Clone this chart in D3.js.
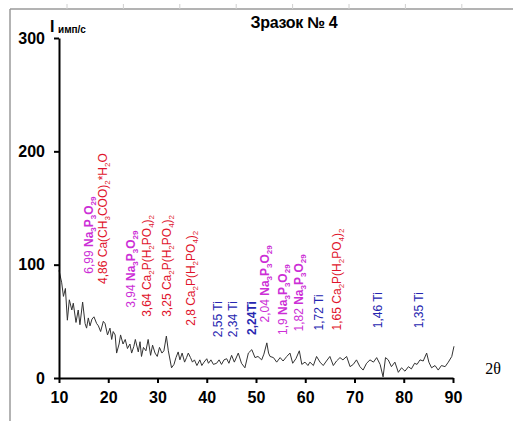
<!DOCTYPE html>
<html><head><meta charset="utf-8">
<script src="https://cdn.jsdelivr.net/npm/d3@7"></script>
<style>html,body{margin:0;padding:0;background:#fff;}svg{display:block;}</style>
</head><body>
<script>
// ---- data ----
const twoTheta = [10.0,10.55,10.9,11.3,11.7,12.1,12.6,12.9,13.45,13.9,14.25,14.8,15.3,15.6,15.95,16.3,16.7,17.1,17.65,18.0,18.45,19.0,19.35,19.85,20.35,20.7,21.0,21.4,21.7,22.2,22.5,23.0,23.45,23.9,24.4,24.75,25.2,25.5,26.1,26.45,26.75,27.15,27.65,28.1,28.6,29.0,29.5,29.95,30.4,30.9,31.3,31.8,32.2,32.85,33.35,33.75,34.2,34.55,35.0,35.5,35.9,36.25,36.7,37.1,37.5,38.0,38.6,39.0,39.45,40.0,40.35,40.85,41.35,42.0,42.5,43.0,43.5,44.05,44.5,45.05,45.6,46.4,47.05,47.75,48.45,49.15,49.8,50.4,51.15,51.6,52.2,52.55,52.85,53.55,54.2,54.9,55.5,56.25,56.9,57.45,58.1,58.8,59.3,59.95,60.55,60.95,61.65,62.3,63.0,63.65,64.3,65.0,65.7,66.35,67.05,67.65,68.4,69.1,69.75,70.4,71.1,71.75,72.45,73.15,73.85,74.5,75.2,75.8,76.3,76.85,77.5,78.2,78.9,79.55,80.25,80.95,81.55,82.2,82.7,83.3,83.95,84.65,85.1,85.65,86.35,87.0,87.65,88.4,89.05,89.75,90.2];
const intensity = [95,84,72,79,51,69,60,66,49,60,47,67,48,44,53,46,52,54,48,46,41,50,48,38,44,34,41,38,22,30,38,30,34,26,30,22,28,34,23,32,19,27,24,34,20,29,22,19,27,22,24,37,24,9,12,18,23,16,22,14,18,22,18,14,16,11,16,11,14,17,13,16,12,13,16,12,16,17,13,20,14,22,13,9,22,25,18,19,16,21,31,22,19,18,14,18,15,19,22,13,17,24,12,14,11,14,11,19,14,11,15,19,11,15,18,16,19,10,12,16,10,7,13,16,14,18,12,1,18,16,10,14,5,9,6,10,8,13,12,16,15,22,14,9,11,7,11,10,14,19,28];

const xTicks = [10,20,30,40,50,60,70,80,90];
const yTicks = [0,100,200,300];

const title = "Зразок № 4";
const yLabel = "I";
const yLabelSub = "имп/с";
const xLabel = "2θ";

// peak annotations (d-spacing, phase); "_n" marks a subscript, "*...*" bold part
const peakText = [
  "6,99 *Na_3P_3O_29*",
  "4,86 Ca(CH_3COO)_2*H_2O",
  "3,94 *Na_3P_3O_29*",
  "3,64 Ca_2P(H_2PO_4)_2",
  "3,25 Ca_2P(H_2PO_4)_2",
  "2,8 Ca_2P(H_2PO_4)_2",
  "2,55 Ti",
  "2,34 Ti",
  "*2,24Ti*",
  "2,04 *Na_3P_3O_29*",
  "1,9 *Na_3P_3O_29*",
  "1,82 *Na_3P_3O_29*",
  "1,72 Ti",
  "1,65 Ca_2P(H_2PO_4)_2",
  "1,46 Ti",
  "1,35 Ti"
];
const peakPhase = ["Na","Ca","Na","Ca","Ca","Ca","Ti","Ti","Ti","Na","Na","Na","Ti","Ca","Ti","Ti"];
const peakAt2Theta = [15.9,18.9,24.6,27.7,31.9,36.8,42.1,45.3,49.0,51.8,55.3,58.7,62.6,66.4,74.6,82.9];
const peakLabelBase = [92,83,62,54,54,46,36,36,38,49,38,41,42,42,44,44];

// ---- drawing ----
const W = 513, H = 421;
const phaseColor = {Na:"#cc2fd6", Ca:"#e0142c", Ti:"#2626b0"};
const svg = d3.select("body").append("svg").attr("width", W).attr("height", H)
  .style("font-family", "Arial, 'Liberation Sans', sans-serif");

// page frame
const frame = svg.append("g").attr("stroke", "#9a9a9a").attr("fill", "none");
frame.append("line").attr("x1", 10).attr("x2", W).attr("y1", 9).attr("y2", 9).attr("stroke-width", 1.5);
frame.append("line").attr("x1", 10).attr("x2", 10).attr("y1", 9).attr("y2", H).attr("stroke-width", 1.5);
const rulerX = d3.range(67, W, 56.4);
svg.append("g").selectAll("line").data(rulerX).join("line")
  .attr("x1", d => d).attr("x2", d => d).attr("y1", 4).attr("y2", 9)
  .attr("stroke", "#d0d0d0").attr("stroke-width", 1);

const x = d3.scaleLinear().domain([10, 90]).range([59, 453]);
const y = d3.scaleLinear().domain([0, 300]).range([378, 38]);

// line
const pts = twoTheta.map((t, i) => [t, intensity[i]]);
svg.append("path").datum(pts)
  .attr("fill", "none").attr("stroke", "#333").attr("stroke-width", 1)
  .attr("stroke-linejoin", "round")
  .attr("d", d3.line().x(d => x(d[0])).y(d => y(d[1])));

// axes
const ax = svg.append("g").attr("transform", "translate(0,378)")
  .call(d3.axisBottom(x).tickValues(xTicks).tickSize(5).tickSizeOuter(0).tickPadding(9));
const ay = svg.append("g").attr("transform", "translate(59,0)")
  .call(d3.axisLeft(y).tickValues(yTicks).tickSize(5).tickSizeOuter(0).tickPadding(9));
[ax, ay].forEach(g => {
  g.select(".domain").attr("stroke", "#000").attr("stroke-width", 2);
  g.selectAll(".tick line").attr("stroke", "#000").attr("stroke-width", 2);
  g.selectAll(".tick text").attr("fill", "#000").style("font-size", "16px")
    .style("font-weight", "bold").style("font-family", "Arial, 'Liberation Sans', sans-serif");
});

// title and axis labels
svg.append("text").attr("x", 294).attr("y", 28).attr("text-anchor", "middle")
  .style("font-size", "16px").style("font-weight", "bold").style("letter-spacing", "-0.3px")
  .text(title);
svg.append("text").attr("x", 50).attr("y", 32)
  .style("font-size", "16px").style("font-weight", "bold").text(yLabel);
svg.append("text").attr("x", 58).attr("y", 33)
  .style("font-size", "10px").style("font-weight", "bold").text(yLabelSub);
svg.append("text").attr("x", 493).attr("y", 374).attr("text-anchor", "middle")
  .style("font-size", "16px").style("font-family", "'Liberation Serif', 'DejaVu Serif', serif")
  .text(xLabel);

// rotated peak labels
const ann = svg.append("g").style("font-size", "12px");
peakText.forEach((s, i) => {
  const t = ann.append("text")
    .attr("transform", `translate(${x(peakAt2Theta[i]) + 4.5},${y(peakLabelBase[i])}) rotate(-90)`)
    .attr("fill", phaseColor[peakPhase[i]]);
  // split into normal / bold chunks ("*" toggles bold only when it wraps a whole run)
  const boldRuns = s.match(/^\*.*\*$/) ? [[s.slice(1, -1), true]]
    : s.includes(" *") ? [[s.split(" *")[0] + " ", false], [s.split(" *")[1].replace(/\*$/, ""), true]]
    : [[s, false]];
  boldRuns.forEach(([run, bold]) => {
    run.split(/(_\d+)/).filter(p => p.length).forEach(p => {
      const ts = t.append("tspan").style("font-weight", bold ? "bold" : "normal");
      if (p[0] === "_") ts.attr("baseline-shift", "-3").style("font-size", "8px").text(p.slice(1));
      else ts.text(p);
    });
  });
});
</script>
</body></html>
